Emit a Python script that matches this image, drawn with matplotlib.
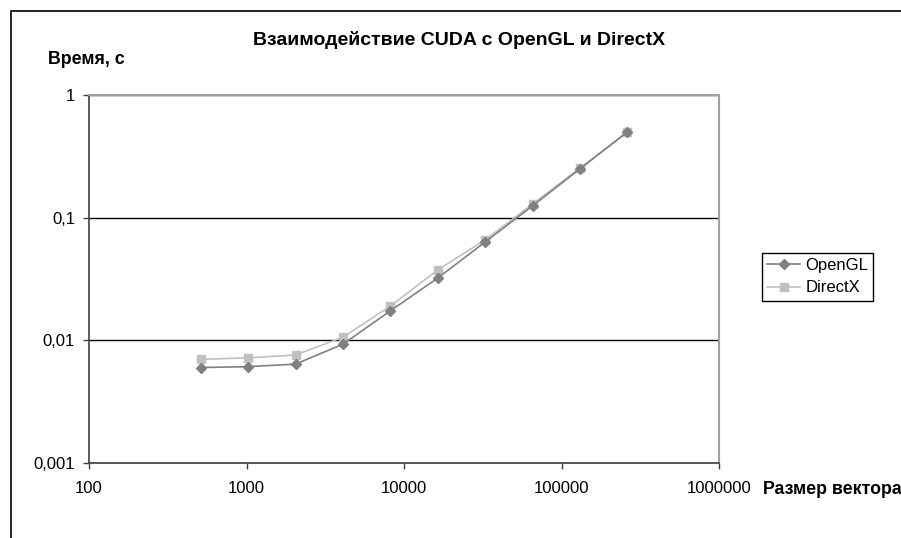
import matplotlib
matplotlib.use("Agg")
import matplotlib.pyplot as plt
from matplotlib.patches import Rectangle
from matplotlib.ticker import FixedLocator, NullLocator

plt.rcParams['font.family'] = ['Liberation Sans', 'DejaVu Sans']

# -------------------------
#  DATA
# -------------------------
sizes = [512, 1024, 2048, 4096, 8192, 16384, 32768, 65536, 131072, 262144]
opengl = [0.0060, 0.0061, 0.0064, 0.0093, 0.0174, 0.0322, 0.0634, 0.125, 0.25, 0.50]
directx = [0.0070, 0.0072, 0.0076, 0.0106, 0.0190, 0.0375, 0.0660, 0.129, 0.254, 0.50]

x_ticks = [100, 1000, 10000, 100000, 1000000]
x_labels = ["100", "1000", "10000", "100000", "1000000"]
y_ticks = [0.001, 0.01, 0.1, 1]
y_labels = ["0,001", "0,01", "0,1", "1"]

W, H = 901, 538
fig = plt.figure(figsize=(W / 100, H / 100), dpi=100)
ax = fig.add_axes([89 / W, 1 - 463 / H, (719 - 89) / W, (463 - 95) / H])

ax.plot(sizes, opengl, color='#808080', lw=1.2, marker='D', ms=5,
        label='OpenGL', zorder=3)
ax.plot(sizes, directx, color='#c0c0c0', lw=1.2, marker='s', ms=5.5,
        label='DirectX', zorder=2)

ax.set_xscale('log')
ax.set_yscale('log')
ax.set_xlim(100, 1e6)
ax.set_ylim(0.001, 1)

ax.xaxis.set_major_locator(FixedLocator(x_ticks))
ax.xaxis.set_minor_locator(NullLocator())
ax.set_xticklabels(x_labels)
ax.yaxis.set_major_locator(FixedLocator(y_ticks))
ax.yaxis.set_minor_locator(NullLocator())
ax.set_yticklabels(y_labels)
ax.tick_params(axis='both', direction='out', length=4, width=1,
               color='#404040', labelsize=12)
ax.tick_params(axis='x', pad=9)
ax.tick_params(axis='y', pad=6)

ax.grid(axis='y', color='black', lw=1)
ax.set_axisbelow(True)
for side in ['left', 'bottom']:
    ax.spines[side].set_color('#404040')
    ax.spines[side].set_linewidth(1.2)
for side in ['top', 'right']:
    ax.spines[side].set_color('#a0a0a0')
    ax.spines[side].set_linewidth(1.5)

# texts
fig.text(253 / W, 1 - 40 / H, 'Взаимодействие CUDA с OpenGL и DirectX',
         ha='left', va='center', fontsize=14, fontweight='bold')
fig.text(48 / W, 1 - 60 / H, 'Время, с', ha='left', va='center',
         fontsize=12.8, fontweight='bold')
fig.text(763 / W, 1 - 489 / H, 'Размер вектора', ha='left', va='center',
         fontsize=12.8, fontweight='bold')

leg = ax.legend(loc='upper left', bbox_to_anchor=(762 / W, 1 - 253 / H),
                bbox_transform=fig.transFigure, fontsize=12, fancybox=False,
                edgecolor='black', framealpha=1, borderpad=0.3,
                handlelength=2.0, handletextpad=0.3, labelspacing=0.45,
                borderaxespad=0)
leg.get_frame().set_linewidth(1)

# outer chart frame (cut off at right and bottom)
fig.patches.append(Rectangle((11 / W, -0.1), 1.2, 1 - 11 / H + 0.1,
                             transform=fig.transFigure, fill=False,
                             edgecolor='black', lw=1.2))

fig.savefig('out.png', dpi=100)
